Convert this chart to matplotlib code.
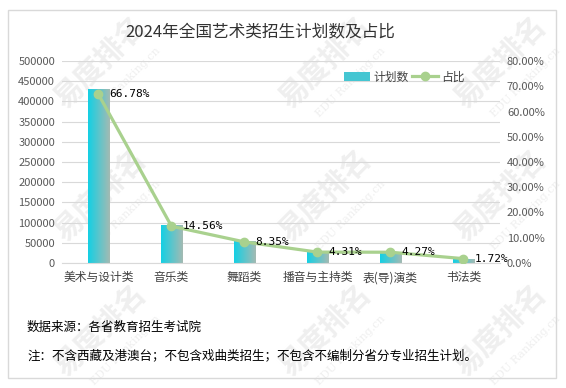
import matplotlib
matplotlib.use('Agg')
import matplotlib.pyplot as plt
import numpy as np
from matplotlib.patches import Rectangle
from matplotlib.colors import LinearSegmentedColormap
from matplotlib.ticker import FuncFormatter, MultipleLocator

plt.rcParams['font.family'] = ['Noto Sans CJK SC', 'DejaVu Sans']

# data
categories = ['美术与设计类', '音乐类', '舞蹈类', '播音与主持类', '表(导)演类', '书法类']
plan_counts = [430000, 93750, 53760, 27750, 27500, 11080]
shares = [66.78, 14.56, 8.35, 4.31, 4.27, 1.72]
title = '2024年全国艺术类招生计划数及占比'
source_note = '数据来源：各省教育招生考试院'
scope_note = '注：不含西藏及港澳台；不包含戏曲类招生；不包含不编制分省分专业招生计划。'

W, H = 566, 388
fig = plt.figure(figsize=(W / 100, H / 100), dpi=100)
fig.patch.set_facecolor('white')


def fx(px):
    return px / W


def fy(py):
    return 1 - py / H


# faint watermark behind everything (kept inside the canvas)
for cx in (100, 325, 500):
    for cy in (62, 195, 330):
        fig.text(fx(cx), fy(cy), '易度排名', rotation=45, fontsize=21, fontweight='bold',
                 color='#efefef', ha='center', va='center', zorder=-2)
        fig.text(fx(cx + 26), fy(cy + 20), 'EDU Ranking.cn', rotation=45, fontsize=8,
                 color='#efefef', ha='center', va='center', zorder=-2, family='DejaVu Serif')

# outer frame
fig.patches.append(Rectangle((fx(8), fy(378)), fx(556) - fx(8), fy(10) - fy(378),
                             transform=fig.transFigure, fill=False,
                             edgecolor='#d9d9d9', lw=1.0))

ax = fig.add_axes([fx(62), fy(263), fx(500) - fx(62), fy(61) - fy(263)])
ax.patch.set_alpha(0)
x = np.arange(len(categories))
bars = ax.bar(x, plan_counts, width=0.3, color='#45c6d2', zorder=2, label='计划数')

# horizontal gradient inside each bar
grad = LinearSegmentedColormap.from_list('g', ['#14d0e4', '#a3bab3'])
img = np.linspace(0, 1, 64).reshape(1, -1)
for b in bars:
    im = ax.imshow(img, cmap=grad, aspect='auto', interpolation='bilinear',
                   extent=[b.get_x(), b.get_x() + b.get_width(), 0, b.get_height()],
                   zorder=2.1)
    im.set_clip_path(b)

ax.set_xlim(-0.5, len(categories) - 0.5)
ax.set_ylim(0, 500000)
ax.yaxis.set_major_locator(MultipleLocator(50000))
ax.yaxis.set_major_formatter(FuncFormatter(lambda v, p: f'{int(v)}'))
ax.grid(axis='y', color='#d9d9d9', lw=0.8, zorder=0)
ax.set_axisbelow(True)
for s in ('top', 'left', 'right'):
    ax.spines[s].set_visible(False)
ax.spines['bottom'].set_color('#d9d9d9')
ax.set_xticks(x)
ax.set_xticklabels(categories)
ax.tick_params(axis='x', length=0, pad=6, labelsize=8.5, labelcolor='#404040')
ax.tick_params(axis='y', length=0, pad=5, labelsize=8, labelcolor='#595959')

ax2 = ax.twinx()
line, = ax2.plot(x, shares, color='#a9d18e', lw=2.3, marker='o', ms=6, zorder=3, label='占比')
ax2.set_ylim(0, 80)
ax2.yaxis.set_major_locator(MultipleLocator(10))
ax2.yaxis.set_major_formatter(FuncFormatter(lambda v, p: '0.0%' if v == 0 else f'{v:.2f}%'))
ax2.tick_params(axis='y', length=0, pad=5, labelsize=8, labelcolor='#595959')
for s in ax2.spines.values():
    s.set_visible(False)

for xi, s in zip(x, shares):
    ax2.annotate(f'{s:.2f}%', (xi, s), xytext=(8, 0), textcoords='offset points',
                 ha='left', va='center', fontsize=8, family='DejaVu Sans Mono', color='black')

fig.legend(handles=[bars, line], labels=['计划数', '占比'], loc='center left',
           bbox_to_anchor=(fx(333), fy(77)), ncol=2, frameon=False, fontsize=8.5,
           handlelength=2.2, handletextpad=0.3, columnspacing=0.3, labelcolor='#404040')

fig.text(fx(260), fy(33), title, ha='center', va='center', fontsize=12, color='#333333')
fig.text(fx(27), fy(327), source_note, ha='left', va='center', fontsize=9, color='black')
fig.text(fx(27), fy(356), scope_note, ha='left', va='center', fontsize=9, color='black')

fig.savefig('out.png', dpi=100)
